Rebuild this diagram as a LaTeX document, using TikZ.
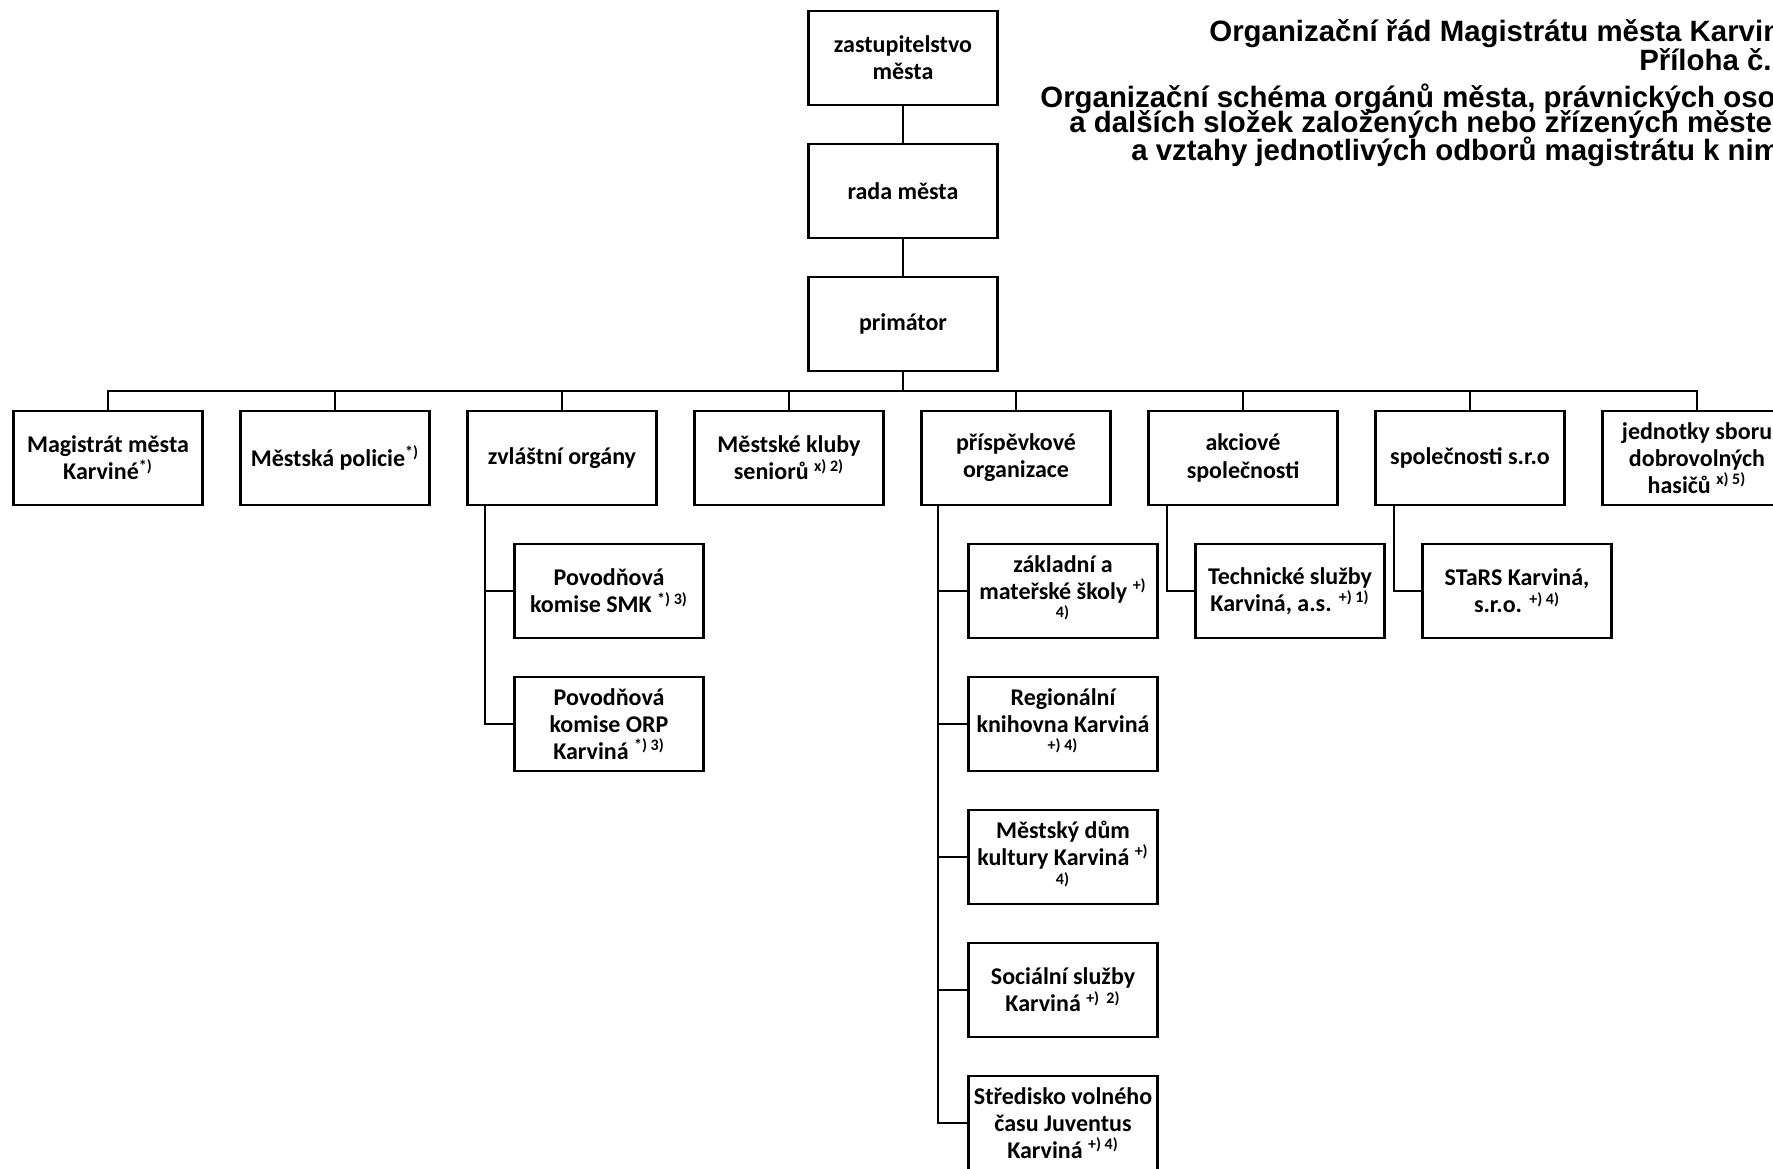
\documentclass[tikz,border=0pt]{standalone}
\usepackage{fontspec}
\setmainfont{Carlito}
\newfontfamily\titlefont{Liberation Sans}
\usepackage{tikz}

\tikzset{
    box/.style={draw=black, line width=1.3pt, fill=white, align=center,
        minimum width=94.5pt, minimum height=47pt, inner sep=1pt,
        font=\bfseries\fontsize{12}{13.6}\selectfont},
    title/.style={inner sep=0pt, font=\titlefont\bfseries\fontsize{14.7}{16}\selectfont},
    link/.style={draw=black, line width=1.1pt}
}

\begin{document}
\begin{tikzpicture}[x=0.5pt, y=-0.5pt]
        \useasboundingbox (0,0) rectangle (1773,1168);
        \clip (0,0) rectangle (1773,1168);
        % title
        \node [title, anchor=west] (title-1) at (1209,34) {Organizační řád Magistrátu města Karviné};
        \node [title, anchor=east] (title-2) at (1772,60) {Příloha č.};
        \node [title, anchor=west] (title-3) at (1040,99) {Organizační schéma orgánů města, právnických osob};
        \node [title, anchor=west] (title-4) at (1069,125) {a dalších složek založených nebo zřízených městem};
        \node [title, anchor=west] (title-5) at (1131,152) {a vztahy jednotlivých odborů magistrátu k nim};
        % top
        \node [box] (zastupitelstvo) at (903,58) {zastupitelstvo\\města};
        \node [box] (rada) at (903,191) {rada města};
        \node [box] (primator) at (903,324) {primátor};
        \coordinate (bus) at (903,391);
        % second row
        \node [box] (magistrat) at (108,458) {Magistrát města\\Karviné\textsuperscript{*)}};
        \node [box] (policie) at (335,458) {Městská policie\textsuperscript{*)}};
        \node [box] (zvlastni) at (562,458) {zvláštní orgány};
        \node [box] (kluby) at (789,458) {Městské kluby\\seniorů \textsuperscript{x) 2)}};
        \node [box] (prispevkove) at (1016,458) {příspěvkové\\organizace};
        \node [box] (akciove) at (1243,458) {akciové\\společnosti};
        \node [box] (sro) at (1470,458) {společnosti s.r.o};
        \node [box] (hasici) at (1697,458) {jednotky sboru\\dobrovolných\\hasičů \textsuperscript{x) 5)}};
        % third level
        \node [box] (komise-smk) at (609,591) {Povodňová\\komise SMK \textsuperscript{*) 3)}};
        \node [box] (komise-orp) at (609,724) {Povodňová\\komise ORP\\Karviná \textsuperscript{*) 3)}};
        \node [box] (skoly) at (1063,591) {základní a\\mateřské školy \textsuperscript{+)}\\\textsuperscript{4)}};
        \node [box] (knihovna) at (1063,724) {Regionální\\knihovna Karviná\\\textsuperscript{+) 4)}};
        \node [box] (dum-kultury) at (1063,857) {Městský dům\\kultury Karviná \textsuperscript{+)}\\\textsuperscript{4)}};
        \node [box] (socialni) at (1063,990) {Sociální služby\\Karviná \textsuperscript{+)\ \ 2)}};
        \node [box] (juventus) at (1063,1123) {Středisko volného\\času Juventus\\Karviná \textsuperscript{+) 4)}};
        \node [box] (technicke) at (1290,591) {Technické služby\\Karviná, a.s. \textsuperscript{+) 1)}};
        \node [box] (stars) at (1517,591) {STaRS Karviná,\\s.r.o. \textsuperscript{+) 4)}};
        % connectors
        \draw [link] (zastupitelstvo) -- (rada);
        \draw [link] (rada) -- (primator);
        \draw [link] (primator) -- (bus);
        \draw [link] (magistrat.north) |- (bus);
        \draw [link] (policie.north) |- (bus);
        \draw [link] (zvlastni.north) |- (bus);
        \draw [link] (kluby.north) |- (bus);
        \draw [link] (prispevkove.north) |- (bus);
        \draw [link] (akciove.north) |- (bus);
        \draw [link] (sro.north) |- (bus);
        \draw [link] (hasici.north) |- (bus);
        \draw [link] ([xshift=9.5pt]zvlastni.south west) |- (komise-smk.west);
        \draw [link] ([xshift=9.5pt]zvlastni.south west) |- (komise-orp.west);
        \draw [link] ([xshift=9pt]prispevkove.south west) |- (skoly.west);
        \draw [link] ([xshift=9pt]prispevkove.south west) |- (knihovna.west);
        \draw [link] ([xshift=9pt]prispevkove.south west) |- (dum-kultury.west);
        \draw [link] ([xshift=9pt]prispevkove.south west) |- (socialni.west);
        \draw [link] ([xshift=9pt]prispevkove.south west) |- (juventus.west);
        \draw [link] ([xshift=10pt]akciove.south west) |- (technicke.west);
        \draw [link] ([xshift=10pt]sro.south west) |- (stars.west);
    \end{tikzpicture}
\end{document}
